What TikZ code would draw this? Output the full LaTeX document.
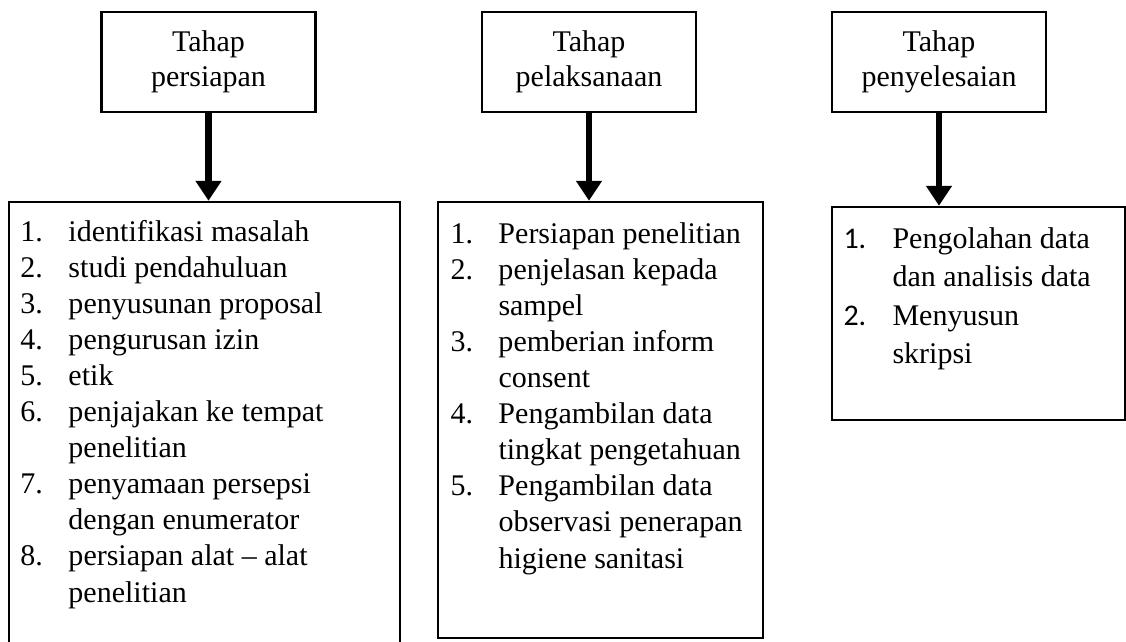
\documentclass[tikz,border=0pt]{standalone}
\usepackage{fontspec}
\setmainfont{Liberation Serif}
\newfontfamily\calibri{Carlito}
\usepackage{tikz}
\usetikzlibrary{arrows.meta}
\newcommand\nomor[1]{\makebox[19.2pt][l]{#1}}
\newcommand\nomorc[1]{\makebox[19.6pt][l]{\calibri #1}}

\begin{document}
\begin{tikzpicture}[x=0.4pt, y=-0.4pt,
    tahap/.style={draw, line width=1pt, minimum width=85.6pt, minimum height=40pt, align=center, font=\fontsize{12}{14}\selectfont},
    isi/.style={draw, line width=1pt, inner sep=0pt},
    teks/.style={anchor=base west, inner sep=0pt, align=left, font=\fontsize{12}{14.44}\selectfont},
    panah/.style={line width=2.6pt, -{Triangle[width=10pt,length=8pt]}}]
    \useasboundingbox (0,0) rectangle (1126,641);

    \node[tahap] (h1) at (208.5,62) {Tahap\\persiapan};
    \node[tahap] (h2) at (589,62) {Tahap\\pelaksanaan};
    \node[tahap] (h3) at (939,62) {Tahap\\penyelesaian};

    \node[isi, minimum width=156.4pt, minimum height=183.2pt] (isi1) at (204.5,431) {};
    \node[isi, minimum width=130pt, minimum height=174.4pt] (isi2) at (600.5,420) {};
    \node[isi, minimum width=117.2pt, minimum height=85.2pt] (isi3) at (978.5,313.5) {};

    % base = baseline of the last line
    \node[teks] (t1) at (20,602) {\nomor{1.}identifikasi masalah\\
        \nomor{2.}studi pendahuluan\\
        \nomor{3.}penyusunan proposal\\
        \nomor{4.}pengurusan izin\\
        \nomor{5.}etik\\
        \nomor{6.}penjajakan ke tempat\\
        \nomor{}penelitian\\
        \nomor{7.}penyamaan persepsi\\
        \nomor{}dengan enumerator\\
        \nomor{8.}persiapan alat -- alat\\
        \nomor{}penelitian};
    \node[teks] (t2) at (450,568) {\nomor{1.}Persiapan penelitian\\
        \nomor{2.}penjelasan kepada\\
        \nomor{}sampel\\
        \nomor{3.}pemberian inform\\
        \nomor{}consent\\
        \nomor{4.}Pengambilan data\\
        \nomor{}tingkat pengetahuan\\
        \nomor{5.}Pengambilan data\\
        \nomor{}observasi penerapan\\
        \nomor{}higiene sanitasi};
    \node[teks, font=\fontsize{12}{15.4}\selectfont] (t3) at (843,363.5) {\nomorc{1.}Pengolahan data\\
        \nomorc{}dan analisis data\\
        \nomorc{2.}Menyusun\\
        \nomorc{}skripsi};

    \draw[panah] (h1.south) -- (h1.south |- isi1.north);
    \draw[panah] (h2.south) -- (h2.south |- isi2.north);
    \draw[panah] (h3.south) -- (h3.south |- isi3.north);
\end{tikzpicture}
\end{document}
